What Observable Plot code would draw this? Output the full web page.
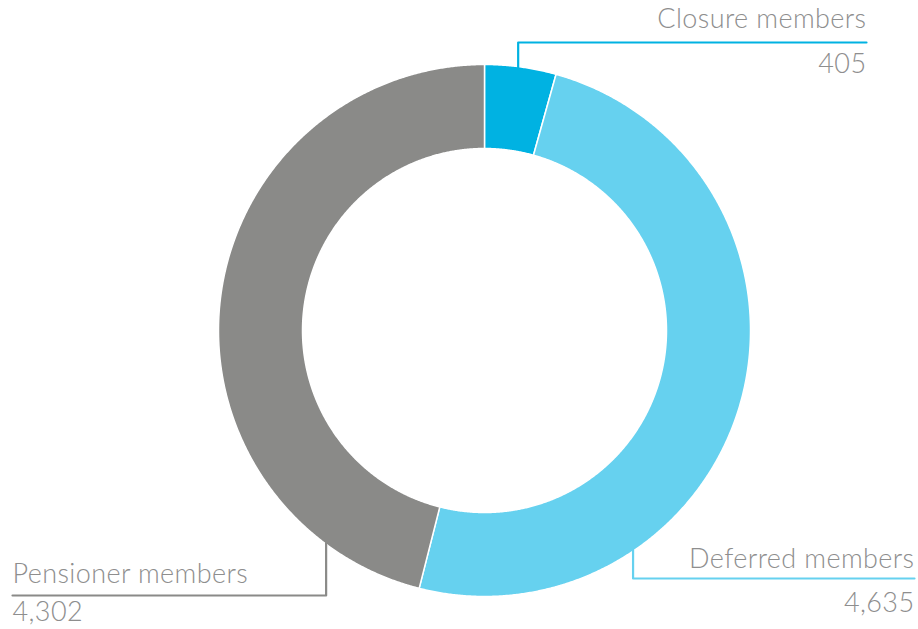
<!DOCTYPE html>
<html>
<head>
<meta charset="utf-8">
<script src="https://cdn.jsdelivr.net/npm/d3@7"></script>
<script src="https://cdn.jsdelivr.net/npm/@observablehq/plot@0.6"></script>
<style>
  html, body { margin: 0; padding: 0; background: #fff; }
  #chart svg { display: block; }
</style>
</head>
<body>
<div id="chart"></div>
<script>
// ---- data ----
const categories = ["Closure members", "Deferred members", "Pensioner members"];
const values = [405, 4635, 4302];
const valueLabels = ["405", "4,635", "4,302"];
const colors = ["#00b2e2", "#66d1ef", "#8a8a88"];

// ---- layout (pixel space) ----
const W = 918, H = 629;
const cx = 484, cy = 330, rOuter = 266, rInner = 182;
// leader: anchor angle on ring (deg clockwise from top), elbow y, end x
const leaderAngle = [7.3, 145.9, 216.7];
const leaderY = [42, 578, 595];
const leaderEndX = [866, 914, 12];
const nameTop = [8, 548, 563];
const valueTop = [53, 592, 601];

const total = d3.sum(values);
let acc = 0;
const slices = categories.map((name, i) => {
  const a0 = acc / total * 2 * Math.PI;
  acc += values[i];
  const a1 = acc / total * 2 * Math.PI;
  return {name, a0, a1, color: colors[i]};
});

const pt = (r, a) => ({x: cx + r * Math.sin(a), y: cy - r * Math.cos(a)});
const arcPts = [];
for (const s of slices) {
  const n = Math.max(8, Math.ceil((s.a1 - s.a0) / 0.005));
  const outer = d3.range(n + 1).map(k => pt(rOuter, s.a0 + (s.a1 - s.a0) * k / n));
  const inner = d3.range(n + 1).map(k => pt(rInner, s.a1 - (s.a1 - s.a0) * k / n));
  [...outer, ...inner, outer[0]].forEach(p => arcPts.push({...p, name: s.name, color: s.color}));
}

const leaderPts = [];
const labels = [];
categories.forEach((name, i) => {
  const a = leaderAngle[i] * Math.PI / 180;
  const p0 = pt(rOuter - 1, a);
  leaderPts.push({x: p0.x, y: p0.y, name, color: colors[i]});
  leaderPts.push({x: p0.x, y: leaderY[i], name, color: colors[i]});
  leaderPts.push({x: leaderEndX[i], y: leaderY[i], name, color: colors[i]});
  const anchor = leaderEndX[i] < p0.x ? "start" : "end";
  labels.push({x: leaderEndX[i], y: nameTop[i], text: name, anchor});
  labels.push({x: leaderEndX[i], y: valueTop[i], text: valueLabels[i], anchor});
});

const textOpts = {x: "x", y: "y", text: "text", lineAnchor: "top", fill: "#8e8e8e", fontSize: 27, fontWeight: 300};

const chart = Plot.plot({
  width: W, height: H,
  margin: 0,
  x: {domain: [0, W], range: [0, W], axis: null},
  y: {domain: [0, H], range: [0, H], axis: null},
  style: {fontFamily: "Lato, 'Open Sans', sans-serif", background: "#fff", letterSpacing: "0.4px"},
  marks: [
    Plot.line(arcPts, {x: "x", y: "y", z: "name", fill: "color", stroke: "#fff", strokeWidth: 1.5, curve: "linear"}),
    Plot.line(leaderPts, {x: "x", y: "y", z: "name", stroke: "color", strokeWidth: 2.2, curve: "linear"}),
    Plot.text(labels.filter(d => d.anchor === "end"), {...textOpts, textAnchor: "end"}),
    Plot.text(labels.filter(d => d.anchor === "start"), {...textOpts, textAnchor: "start"})
  ]
});
document.getElementById("chart").appendChild(chart);
</script>
</body>
</html>
